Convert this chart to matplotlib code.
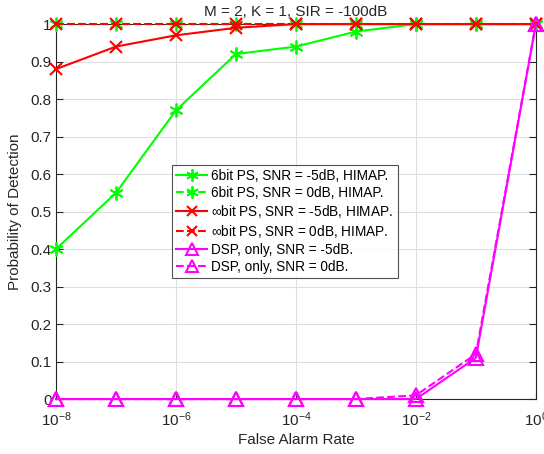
import numpy as np
import matplotlib
matplotlib.use("Agg")
import matplotlib.pyplot as plt

far = [1e-8, 1e-7, 1e-6, 1e-5, 1e-4, 1e-3, 1e-2, 1e-1, 1e0]

pd_6bit_m5 = [0.40, 0.55, 0.77, 0.92, 0.94, 0.98, 1.0, 1.0, 1.0]
pd_6bit_0 = [1.0, 1.0, 1.0, 1.0, 1.0, 1.0, 1.0, 1.0, 1.0]
pd_inf_m5 = [0.88, 0.94, 0.97, 0.99, 1.0, 1.0, 1.0, 1.0, 1.0]
pd_inf_0 = [1.0, 1.0, 1.0, 1.0, 1.0, 1.0, 1.0, 1.0, 1.0]
pd_dsp_m5 = [0.0, 0.0, 0.0, 0.0, 0.0, 0.0, 0.0, 0.11, 1.0]
pd_dsp_0 = [0.0, 0.0, 0.0, 0.0, 0.0, 0.0, 0.01, 0.12, 1.0]

labels = [
    "6bit PS, SNR = -5dB, HIMAP.",
    "6bit PS, SNR = 0dB, HIMAP.",
    r"$\infty$bit PS, SNR = -5dB, HIMAP.",
    r"$\infty$bit PS, SNR = 0dB, HIMAP.",
    "DSP, only, SNR = -5dB.",
    "DSP, only, SNR = 0dB.",
]

plt.rcParams["font.family"] = ["Liberation Sans", "DejaVu Sans"]
plt.rcParams["mathtext.fontset"] = "custom"
plt.rcParams["mathtext.rm"] = "Liberation Sans"
plt.rcParams["mathtext.it"] = "Liberation Sans"

fig = plt.figure(figsize=(5.44, 4.54), dpi=100)
ax = fig.add_axes([0.103, 0.121, 0.882, 0.826])

lw = 1.5
common = dict(lw=lw, clip_on=False, zorder=3)
ax.plot(far, pd_6bit_m5, "-", color=(0, 1, 0), marker=(6, 2, 0), ms=10, mew=1.3, label=labels[0], **common)
ax.plot(far, pd_6bit_0, "--", color=(0, 1, 0), marker=(6, 2, 0), ms=10, mew=1.3, label=labels[1], **common)
ax.plot(far, pd_inf_m5, "-", color=(1, 0, 0), marker="x", ms=8, mew=1.5, label=labels[2], **common)
ax.plot(far, pd_inf_0, "--", color=(1, 0, 0), marker="x", ms=8, mew=1.5, label=labels[3], **common)
ax.plot(far, pd_dsp_m5, "-", color=(1, 0, 1), marker="^", ms=10, mfc="none", mew=1.5, label=labels[4], **common)
ax.plot(far, pd_dsp_0, "--", color=(1, 0, 1), marker="^", ms=10, mfc="none", mew=1.5, label=labels[5], **common)

ax.set_xscale("log")
ax.set_xlim(1e-8, 1e0)
ax.set_ylim(0, 1)
ax.set_xticks([1e-8, 1e-6, 1e-4, 1e-2, 1e0])
ax.set_xticklabels([r"10$^{\mathregular{-8}}$", r"10$^{\mathregular{-6}}$", r"10$^{\mathregular{-4}}$",
                    r"10$^{\mathregular{-2}}$", r"10$^{\mathregular{0}}$"])
ax.set_xticks([], minor=True)
ax.set_yticks(np.arange(0, 1.01, 0.1))
ax.set_yticklabels(["0", "0.1", "0.2", "0.3", "0.4", "0.5", "0.6", "0.7", "0.8", "0.9", "1"])

ax.grid(True, color="#dfdfdf", lw=0.8)
ax.set_axisbelow(True)
for s in ax.spines.values():
    s.set_color("#262626")
    s.set_linewidth(0.8)
ax.tick_params(axis="both", which="both", direction="in", top=True, right=True,
               colors="#262626", labelsize=11, length=5)
ax.tick_params(axis="x", pad=8)
ax.tick_params(axis="y", pad=3)

ax.set_xlabel("False Alarm Rate", fontsize=11, color="#262626", labelpad=3)
ax.set_ylabel("Probability of Detection", fontsize=11, color="#262626", labelpad=6)
ax.set_title("M = 2, K = 1, SIR = -100dB", fontsize=11, color="#262626", pad=6)

leg = ax.legend(loc="upper left", bbox_to_anchor=(172 / 544, 1 - 165 / 454),
                bbox_transform=fig.transFigure, fontsize=9.8, frameon=True,
                fancybox=False, edgecolor="#262626", handlelength=2.3,
                handletextpad=0.3, borderpad=0.3, labelspacing=0.22, borderaxespad=0,
                markerscale=0.9)
leg.get_frame().set_linewidth(0.8)
leg.set_zorder(5)

fig.savefig("out.png", dpi=100)
